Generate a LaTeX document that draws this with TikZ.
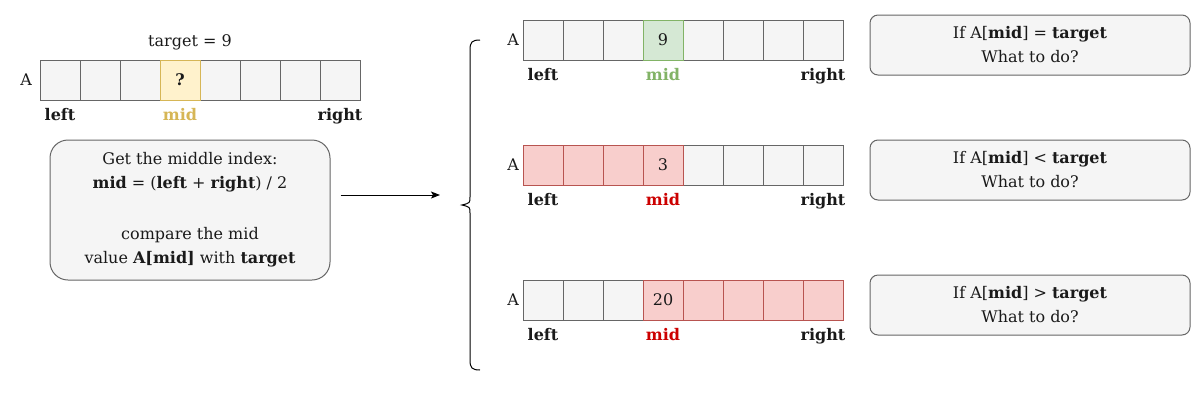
\documentclass[tikz,border=0pt]{standalone}
\usepackage{fontspec}
\setmainfont{DejaVu Serif}
\usetikzlibrary{positioning,arrows.meta}
\definecolor{cellfill}{HTML}{F5F5F5}
\definecolor{cellline}{HTML}{666666}
\definecolor{yelfill}{HTML}{FFF2CC}
\definecolor{yelline}{HTML}{D6B656}
\definecolor{grnfill}{HTML}{D5E8D4}
\definecolor{grnline}{HTML}{82B366}
\definecolor{redfill}{HTML}{F8CECC}
\definecolor{redline}{HTML}{B85450}
\definecolor{redtext}{HTML}{CC0000}
\definecolor{ink}{HTML}{1A1A1A}
\tikzset{
    cell/.style={draw=cellline,fill=cellfill,minimum size=40pt,inner sep=0pt,line width=1pt},
    askcell/.style={cell,draw=yelline,fill=yelfill},
    hitcell/.style={cell,draw=grnline,fill=grnfill},
    offcell/.style={cell,draw=redline,fill=redfill},
    ptr/.style={font=\fontsize{16}{18}\selectfont\bfseries,below=4pt of #1},
    note/.style={draw=cellline,fill=cellfill,line width=1pt,align=center,inner sep=0pt}
}
\begin{document}
\begin{tikzpicture}[x=1pt,y=-1pt,>={Stealth[length=9pt,width=7pt,inset=2pt]},text=ink,font=\fontsize{16}{24}\selectfont]
    \useasboundingbox (0,0) rectangle (1200,400);
    % the array before the comparison
    \node at (190,42) {target = 9};
    \foreach \i in {1,2,3,5,6,7,8}
        \node[cell] (l\i) at (20+40*\i,80) {};
    \node[askcell] (l4) at (180,80) {\textbf{?}};
    \node[left=4pt of l1] {A};
    \node[ptr=l1] {left};
    \node[ptr=l4,text=yelline] {mid};
    \node[ptr=l8] {right};
    \node[note,rounded corners=18pt,minimum width=280pt,minimum height=140pt] (calc) at (190,210)
        {Get the middle index:\\
         \textbf{mid} = (\textbf{left} + \textbf{right}) / 2\\[27pt]
         compare the mid\\
         value \textbf{A[mid]} with \textbf{target}};
    \coordinate (goal) at (440,195);
    \draw[->,line width=1pt] ([xshift=10pt]calc.east |- goal) -- (goal);
    % brace
    \draw[line width=1pt] (480,40) .. controls (472,40) and (470,42) .. (470,50) -- (470,197)
        .. controls (470,203) .. (462,205) .. controls (470,207) .. (470,213) -- (470,360)
        .. controls (470,368) and (472,370) .. (480,370);
    % A[mid] = target
    \foreach \i in {1,2,3,5,6,7,8}
        \node[cell] (p\i) at (503+40*\i,40) {};
    \node[hitcell] (p4) at (663,40) {9};
    \node[left=0pt of p1] {A};
    \node[ptr=p1] {left};
    \node[ptr=p4,text=grnline] {mid};
    \node[ptr=p8] {right};
    % A[mid] < target
    \foreach \i in {5,6,7,8}
        \node[cell] (q\i) at (503+40*\i,165) {};
    \foreach \i in {1,2,3}
        \node[offcell] (q\i) at (503+40*\i,165) {};
    \node[offcell] (q4) at (663,165) {3};
    \node[left=0pt of q1] {A};
    \node[ptr=q1] {left};
    \node[ptr=q4,text=redtext] {mid};
    \node[ptr=q8] {right};
    % A[mid] > target
    \foreach \i in {1,2,3}
        \node[cell] (r\i) at (503+40*\i,300) {};
    \foreach \i in {5,6,7,8}
        \node[offcell] (r\i) at (503+40*\i,300) {};
    \node[offcell] (r4) at (663,300) {20};
    \node[left=0pt of r1] {A};
    \node[ptr=r1] {left};
    \node[ptr=r4,text=redtext] {mid};
    \node[ptr=r8] {right};
    % questions
    \node[note,rounded corners=8pt,minimum width=320pt,minimum height=60pt] (eqbox) at (1030,45)
        {If A[\textbf{mid}] = \textbf{target}\\What to do?};
    \node[note,rounded corners=8pt,minimum width=320pt,minimum height=60pt] (ltbox) at (1030,170)
        {If A[\textbf{mid}] < \textbf{target}\\What to do?};
    \node[note,rounded corners=8pt,minimum width=320pt,minimum height=60pt] (gtbox) at (1030,305)
        {If A[\textbf{mid}] > \textbf{target}\\What to do?};
\end{tikzpicture}
\end{document}
